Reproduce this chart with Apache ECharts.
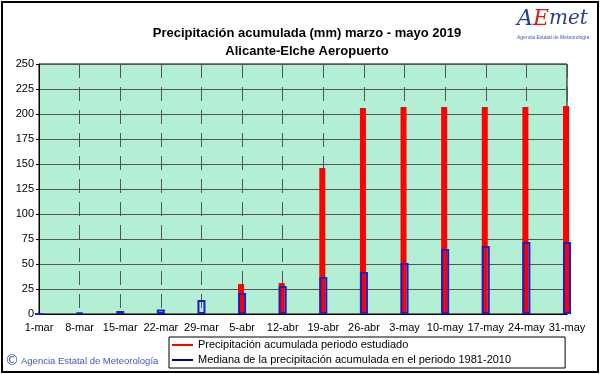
<!DOCTYPE html>
<html>
<head>
<meta charset="utf-8">
<script src="https://cdn.jsdelivr.net/npm/echarts@6/dist/echarts.min.js"></script>
<style>
html,body{margin:0;padding:0;background:#fff;}
#chart{width:601px;height:374px;}
</style>
</head>
<body>
<div id="chart"></div>
<script>
var categories = ['1-mar','8-mar','15-mar','22-mar','29-mar','5-abr','12-abr','19-abr','26-abr','3-may','10-may','17-may','24-may','31-may'];
var precipEstudiado = [0,0,0,0,0,30,31,146,206,207,207,207,207,208];
var medianaPeriodo = [0,1.5,3,4.5,14,21,28,37,42,51,65,68,72,72];
var yTicks = [0,25,50,75,100,125,150,175,200,225,250];

var nameRed = 'Precipitación acumulada periodo estudiado';
var nameBlue = 'Mediana de la precipitación acumulada en el periodo 1981-2010';
var FONT = 'Liberation Sans';

// measure legend text width to make the legend box span x=169..567
var cv = document.createElement('canvas').getContext('2d');
cv.font = '11px "Liberation Sans"';
var maxText = Math.max(cv.measureText(nameRed).width, cv.measureText(nameBlue).width);
var legendRightPad = Math.max(4, Math.round(398 - 2 - 3 - 21 - 5 - maxText));

var chart = echarts.init(document.getElementById('chart'), null, {renderer:'canvas'});
chart.setOption({
  animation: false,
  backgroundColor: '#ffffff',
  textStyle: {fontFamily: FONT},
  title: {
    text: 'Precipitación acumulada (mm) marzo - mayo 2019\nAlicante-Elche Aeropuerto',
    left: 302, textAlign: 'center', top: 19,
    textStyle: {fontFamily: FONT, fontSize: 13, fontWeight: 'bold', color: '#000', lineHeight: 18}
  },
  grid: {
    left: 39, right: 34, top: 64, bottom: 60,
    show: true, backgroundColor: '#b2efd4', borderColor: '#000', borderWidth: 1
  },
  legend: {
    orient: 'vertical', left: 169, top: 337,
    padding: [2, legendRightPad, 2, 3],
    itemGap: 3, itemWidth: 21, itemHeight: 2,
    borderColor: '#000', borderWidth: 1,
    textStyle: {fontFamily: FONT, fontSize: 11, color: '#000', lineHeight: 12},
    data: [
      {name: nameRed, icon: 'rect', itemStyle: {color: '#ff0000', borderWidth: 0}},
      {name: nameBlue, icon: 'rect', itemStyle: {color: '#000090', borderWidth: 0}}
    ]
  },
  xAxis: {
    type: 'category', data: categories, boundaryGap: false,
    axisLine: {show: true, lineStyle: {color: '#000', width: 1}},
    axisTick: {show: false},
    axisLabel: {color: '#000', fontSize: 11, fontFamily: FONT, margin: 8, interval: 0},
    splitLine: {show: true, lineStyle: {color: '#555', type: [14, 9], width: 1}}
  },
  yAxis: {
    type: 'value', min: yTicks[0], max: yTicks[yTicks.length-1], interval: 25,
    axisLine: {show: true, lineStyle: {color: '#000', width: 1}},
    axisTick: {show: true, length: 3, lineStyle: {color: '#000'}},
    axisLabel: {color: '#000', fontSize: 11, fontFamily: FONT, margin: 5},
    splitLine: {show: true, lineStyle: {color: '#555', width: 1}}
  },
  series: [
    {
      name: nameRed, type: 'bar', data: precipEstudiado, barWidth: 6, barGap: '-100%',
      itemStyle: {color: '#ff0000'}
    },
    {
      name: nameBlue, type: 'bar', data: medianaPeriodo, barWidth: 8, barGap: '-100%',
      itemStyle: {color: 'rgba(0,0,0,0)', borderColor: '#1c1cc8', borderWidth: 2}
    }
  ],
  graphic: [
    {type: 'rect', shape: {x: 2, y: 2, width: 596, height: 370}, style: {fill: null, stroke: '#000', lineWidth: 2}, silent: true},
    {type: 'text', left: 5, top: 354, style: {text: '©', font: '14px "DejaVu Sans"', fill: '#3a5cb0'}},
    {type: 'text', left: 21, top: 356, style: {text: 'Agencia Estatal de Meteorología', font: '9.5px "Liberation Sans"', fill: '#3a5cb0'}},
    {type: 'text', left: 517, top: 8, style: {
      text: '{a|A}{e|E}{m|met}',
      rich: {
        a: {font: 'italic 22px "DejaVu Serif"', fill: '#2a3c9c'},
        e: {font: 'italic 22px "DejaVu Serif"', fill: '#d02020'},
        m: {font: 'italic 20px "DejaVu Serif"', fill: '#2a3c9c'}
      }
    }},
    {type: 'text', left: 517, top: 35, style: {text: 'Agencia Estatal de Meteorología', font: '5px "Liberation Sans"', fill: '#3a5cb0'}}
  ]
});
</script>
</body>
</html>
